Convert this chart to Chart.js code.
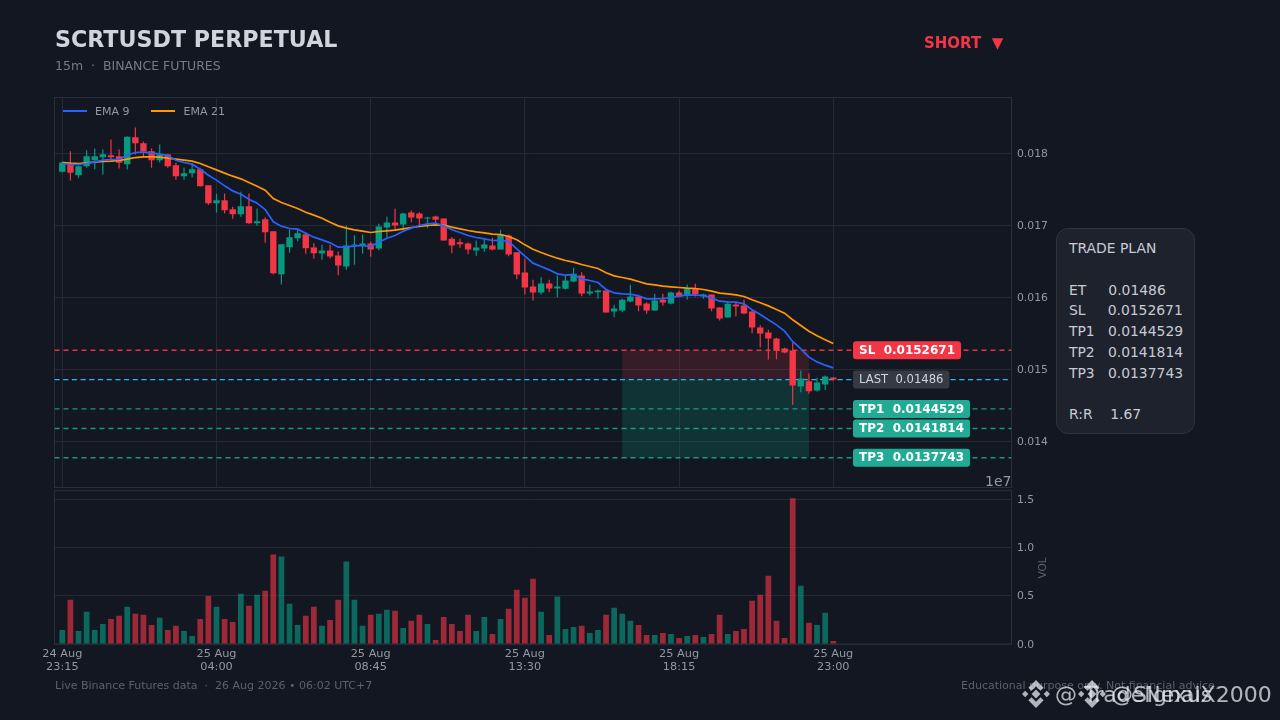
<!DOCTYPE html>
<html>
<head>
<meta charset="utf-8">
<title>SCRTUSDT PERPETUAL</title>
<script src="https://cdn.jsdelivr.net/npm/chart.js@4/dist/chart.umd.min.js"></script>
<style>
    html, body { margin: 0; padding: 0; background: #131722; }
    body { width: 1280px; height: 720px; position: relative; overflow: hidden; font-family: "DejaVu Sans", sans-serif; }
    .abs { position: absolute; white-space: pre; line-height: 1; }
    canvas { position: absolute; left: 0; }
    #priceChart { top: 0; }
    #volumeChart { top: 490px; }
    #title { left: 55px; top: 28px; font-size: 22.2px; font-weight: bold; color: #d1d4dc; }
    #subtitle { left: 55px; top: 60px; font-size: 12.5px; color: #787b86; }
    #side { left: 924px; top: 36px; font-size: 15px; font-weight: bold; color: #f23645; }
    #legend { left: 63px; top: 105px; font-size: 11px; color: #9598a1; display: flex; align-items: center; height: 12px; }
    #legend i { display: inline-block; width: 24px; height: 1.5px; margin-right: 8px; }
    #legend span { margin-right: 22px; }
    #exp { right: 268.5px; top: 474px; font-size: 14px; color: #9598a1; }
    #vol { left: 1042px; top: 568px; font-size: 10.5px; color: #5d606b; transform: translate(-50%, -50%) rotate(-90deg); }
    #plan { left: 1056px; top: 228px; width: 139px; height: 206px; box-sizing: border-box; background: #1e222d; border: 1.5px solid #2f333e; border-radius: 12px; padding: 9px 0 0 12px; font-size: 13.9px; line-height: 20.75px; color: #c8cbd3; white-space: pre; }
    #footl { left: 55px; top: 680px; font-size: 11px; color: #5d606b; }
    #footr { left: 961px; top: 680px; font-size: 11px; color: #5d606b; }
    .mark { color: rgba(232, 234, 240, 0.75); font-size: 22px; top: 684px; }
    svg.logo { position: absolute; top: 680px; width: 28px; height: 28px; fill: rgba(232, 234, 240, 0.75); }
</style>
</head>
<body>
<canvas id="priceChart" width="1280" height="490"></canvas>
<canvas id="volumeChart" width="1280" height="205"></canvas>

<div class="abs" id="title">SCRTUSDT PERPETUAL</div>
<div class="abs" id="subtitle">15m  ·  BINANCE FUTURES</div>
<div class="abs" id="side">SHORT  ▼</div>
<div class="abs" id="legend"><i style="background:#2962ff"></i><span>EMA 9</span><i style="background:#ff9800"></i><span>EMA 21</span></div>
<div class="abs" id="exp">1e7</div>
<div class="abs" id="vol">VOL</div>
<div class="abs" id="plan">TRADE PLAN

ET     0.01486
SL     0.0152671
TP1   0.0144529
TP2   0.0141814
TP3   0.0137743

R:R    1.67</div>
<div class="abs" id="footl">Live Binance Futures data  ·  26 Aug 2026 • 06:02 UTC+7</div>
<div class="abs" id="footr">Educational purpose only. Not financial advice.</div>

<svg class="logo" style="left:1022px" viewBox="5 5 22 22"><path d="M16 3l6 6-2.5 2.5L16 8l-3.5 3.5L10 9zM5 14l2.5-2.5L10 14v.0l-2.5 2.500L5 14zM27 14l-2.5-2.5L22 14l2.5 2.5zM16 10.500l3.500 3.500-3.500 3.500-3.500-3.500zM16 25l-6-6 2.500-2.500L16 20l3.500-3.500L22 19z" transform="translate(0 2)"/></svg>
<div class="abs mark" style="left:1055px">@ TradeNexus</div>
<svg class="logo" style="left:1078px" viewBox="5 5 22 22"><path d="M16 3l6 6-2.5 2.5L16 8l-3.5 3.5L10 9zM5 14l2.5-2.5L10 14v.0l-2.5 2.500L5 14zM27 14l-2.5-2.5L22 14l2.5 2.5zM16 10.500l3.500 3.500-3.500 3.500-3.500-3.500zM16 25l-6-6 2.500-2.500L16 20l3.500-3.500L22 19z" transform="translate(0 2)"/></svg>
<div class="abs mark" style="left:1111px">@SignalX2000</div>

<script>
// velas, una por cada 15m
const opens = [
    0.017745, 0.017847, 0.017699, 0.017824, 0.017907, 0.017949, 0.017977, 0.017963, 0.017852, 0.018227,
    0.018144, 0.018032, 0.017907, 0.017986, 0.017838, 0.017685, 0.017727, 0.017782, 0.017560, 0.017310,
    0.017352, 0.017227, 0.017157, 0.017268, 0.017032, 0.017088, 0.016921, 0.016324, 0.016699, 0.016824,
    0.016880, 0.016694, 0.016611, 0.016653, 0.016583, 0.016430, 0.016722, 0.016722, 0.016750, 0.016681,
    0.016972, 0.017042, 0.017014, 0.017180, 0.017167, 0.017097, 0.017125, 0.017097, 0.016815, 0.016769,
    0.016750, 0.016653, 0.016681, 0.016722, 0.016667, 0.016861, 0.016630, 0.016347, 0.016153, 0.016069,
    0.016194, 0.016125, 0.016120, 0.016222, 0.016306, 0.016056, 0.016074, 0.016097, 0.015806, 0.015819,
    0.015944, 0.016014, 0.015917, 0.015819, 0.015968, 0.015917, 0.016069, 0.016028, 0.016120, 0.016014,
    0.016042, 0.015861, 0.015722, 0.015903, 0.015889, 0.015806, 0.015583, 0.015514, 0.015431, 0.015292,
    0.015264, 0.014764, 0.014838, 0.014708, 0.014792, 0.014889
];
const highs = [
    0.017890, 0.018032, 0.017838, 0.018046, 0.018069, 0.018056, 0.018194, 0.018056, 0.018236, 0.018361,
    0.018167, 0.018069, 0.018125, 0.017995, 0.017870, 0.017806, 0.017861, 0.017801, 0.017560, 0.017440,
    0.017444, 0.017259, 0.017468, 0.017444, 0.017236, 0.017116, 0.016921, 0.016741, 0.016944, 0.016940,
    0.016907, 0.016755, 0.016731, 0.016731, 0.016639, 0.017000, 0.016866, 0.016875, 0.016773, 0.017023,
    0.017120, 0.017231, 0.017176, 0.017208, 0.017185, 0.017120, 0.017134, 0.017097, 0.016838, 0.016815,
    0.016764, 0.016792, 0.016801, 0.016829, 0.016940, 0.016875, 0.016630, 0.016537, 0.016245, 0.016282,
    0.016245, 0.016306, 0.016306, 0.016412, 0.016352, 0.016176, 0.016111, 0.016097, 0.015898, 0.015981,
    0.016176, 0.016037, 0.015935, 0.016051, 0.016051, 0.016079, 0.016097, 0.016181, 0.016190, 0.016051,
    0.016042, 0.015866, 0.015940, 0.015935, 0.015972, 0.015819, 0.015616, 0.015551, 0.015440, 0.015301,
    0.015375, 0.014986, 0.014949, 0.014884, 0.014917, 0.014892
];
const lows = [
    0.017735, 0.017625, 0.017662, 0.017801, 0.017782, 0.017708, 0.017921, 0.017792, 0.017778, 0.017986,
    0.017954, 0.017801, 0.017875, 0.017801, 0.017634, 0.017634, 0.017667, 0.017546, 0.017287, 0.017180,
    0.017167, 0.017093, 0.017120, 0.017023, 0.016995, 0.016759, 0.016319, 0.016180, 0.016620, 0.016782,
    0.016606, 0.016542, 0.016523, 0.016542, 0.016310, 0.016384, 0.016454, 0.016606, 0.016565, 0.016657,
    0.016829, 0.016930, 0.016930, 0.017046, 0.017000, 0.016963, 0.017032, 0.016792, 0.016616, 0.016690,
    0.016602, 0.016579, 0.016634, 0.016657, 0.016667, 0.016574, 0.016255, 0.016042, 0.015958, 0.016042,
    0.016074, 0.016005, 0.016111, 0.016213, 0.016019, 0.016028, 0.015981, 0.015792, 0.015727, 0.015796,
    0.015935, 0.015810, 0.015773, 0.015819, 0.015884, 0.015907, 0.016005, 0.015968, 0.016014, 0.015981,
    0.015810, 0.015681, 0.015722, 0.015736, 0.015769, 0.015505, 0.015306, 0.015139, 0.015144, 0.015227,
    0.014509, 0.014685, 0.014662, 0.014694, 0.014717, 0.014846
];
const closes = [
    0.017875, 0.017731, 0.017824, 0.017963, 0.017963, 0.017991, 0.017949, 0.017870, 0.018231, 0.018144,
    0.018032, 0.017907, 0.017986, 0.017824, 0.017685, 0.017727, 0.017782, 0.017546, 0.017310, 0.017352,
    0.017213, 0.017157, 0.017268, 0.017032, 0.017060, 0.016907, 0.016338, 0.016741, 0.016838, 0.016893,
    0.016685, 0.016616, 0.016653, 0.016569, 0.016444, 0.016722, 0.016736, 0.016750, 0.016667, 0.016986,
    0.017042, 0.017000, 0.017167, 0.017111, 0.017097, 0.017111, 0.017079, 0.016792, 0.016722, 0.016741,
    0.016667, 0.016694, 0.016736, 0.016667, 0.016875, 0.016597, 0.016319, 0.016139, 0.016069, 0.016194,
    0.016125, 0.016153, 0.016236, 0.016329, 0.016056, 0.016083, 0.016097, 0.015792, 0.015847, 0.015968,
    0.016014, 0.015889, 0.015819, 0.015958, 0.015931, 0.016069, 0.016014, 0.016120, 0.016046, 0.016042,
    0.015847, 0.015708, 0.015912, 0.015875, 0.015778, 0.015583, 0.015500, 0.015431, 0.015259, 0.015236,
    0.014778, 0.014875, 0.014699, 0.014819, 0.014903, 0.014860
];
// volumen en unidades de 1e7
const volumes = [
    0.146, 0.458, 0.135, 0.333, 0.146, 0.208, 0.260, 0.292, 0.385, 0.313,
    0.302, 0.198, 0.271, 0.146, 0.188, 0.135, 0.083, 0.260, 0.497, 0.385,
    0.260, 0.229, 0.521, 0.396, 0.510, 0.552, 0.927, 0.906, 0.417, 0.198,
    0.292, 0.385, 0.188, 0.250, 0.458, 0.854, 0.458, 0.188, 0.302, 0.313,
    0.354, 0.344, 0.167, 0.240, 0.302, 0.208, 0.042, 0.281, 0.208, 0.135,
    0.302, 0.135, 0.281, 0.104, 0.260, 0.365, 0.563, 0.479, 0.677, 0.333,
    0.094, 0.493, 0.156, 0.177, 0.188, 0.115, 0.146, 0.302, 0.375, 0.313,
    0.240, 0.198, 0.094, 0.094, 0.115, 0.104, 0.063, 0.083, 0.094, 0.073,
    0.104, 0.302, 0.104, 0.135, 0.156, 0.448, 0.510, 0.708, 0.240, 0.063,
    1.512, 0.604, 0.219, 0.198, 0.323, 0.031
];
const ema9 = [
    0.017861, 0.017847, 0.017847, 0.017861, 0.017884, 0.017907, 0.017917, 0.017917, 0.017977, 0.018014,
    0.018023, 0.018005, 0.017995, 0.017968, 0.017907, 0.017875, 0.017852, 0.017782, 0.017699, 0.017630,
    0.017551, 0.017481, 0.017435, 0.017366, 0.017310, 0.017222, 0.017051, 0.016991, 0.016958, 0.016949,
    0.016891, 0.016838, 0.016801, 0.016759, 0.016699, 0.016704, 0.016713, 0.016722, 0.016708, 0.016769,
    0.016824, 0.016861, 0.016921, 0.016963, 0.017000, 0.017023, 0.017032, 0.016995, 0.016940, 0.016903,
    0.016861, 0.016833, 0.016815, 0.016792, 0.016796, 0.016778, 0.016676, 0.016574, 0.016477, 0.016431,
    0.016384, 0.016329, 0.016310, 0.016319, 0.016259, 0.016236, 0.016208, 0.016111, 0.016065, 0.016051,
    0.016046, 0.016023, 0.015981, 0.015981, 0.015986, 0.016000, 0.016019, 0.016037, 0.016032, 0.016028,
    0.015995, 0.015949, 0.015940, 0.015935, 0.015912, 0.015829, 0.015764, 0.015690, 0.015620, 0.015532,
    0.015389, 0.015287, 0.015171, 0.015106, 0.015060, 0.015023
];
const ema21 = [
    0.017875, 0.017866, 0.017861, 0.017870, 0.017880, 0.017889, 0.017894, 0.017903, 0.017921, 0.017944,
    0.017954, 0.017954, 0.017949, 0.017935, 0.017921, 0.017907, 0.017894, 0.017861, 0.017815, 0.017773,
    0.017727, 0.017685, 0.017648, 0.017597, 0.017546, 0.017491, 0.017375, 0.017320, 0.017278, 0.017236,
    0.017183, 0.017144, 0.017102, 0.017046, 0.016995, 0.016963, 0.016940, 0.016921, 0.016903, 0.016917,
    0.016926, 0.016935, 0.016954, 0.016972, 0.016986, 0.017000, 0.017009, 0.017005, 0.016977, 0.016954,
    0.016931, 0.016912, 0.016898, 0.016880, 0.016875, 0.016847, 0.016801, 0.016731, 0.016671, 0.016625,
    0.016583, 0.016546, 0.016514, 0.016491, 0.016458, 0.016431, 0.016403, 0.016343, 0.016301, 0.016278,
    0.016255, 0.016222, 0.016190, 0.016176, 0.016157, 0.016148, 0.016139, 0.016130, 0.016125, 0.016111,
    0.016088, 0.016060, 0.016051, 0.016037, 0.016014, 0.015968, 0.015926, 0.015884, 0.015833, 0.015782,
    0.015690, 0.015611, 0.015532, 0.015468, 0.015412, 0.015361
];

// ejes
const timeTicks = [0, 19, 38, 57, 76, 95];
const timeLabels = [['24 Aug', '23:15'], ['25 Aug', '04:00'], ['25 Aug', '08:45'], ['25 Aug', '13:30'], ['25 Aug', '18:15'], ['25 Aug', '23:00']];
const priceTicks = [0.014, 0.015, 0.016, 0.017, 0.018];
const volumeTicks = [0, 0.5, 1, 1.5];

// plan de trade
const levelNames = ['SL', 'LAST', 'TP1', 'TP2', 'TP3'];
const levelPrices = [0.0152671, 0.01486, 0.0144529, 0.0141814, 0.0137743];
const levelTexts = ['0.0152671', '0.01486', '0.0144529', '0.0141814', '0.0137743'];
const zoneBars = [69, 92];

const X_MIN = -0.96, X_MAX = 116.96;
const UP = '#089981', DOWN = '#f23645';
const GRID = '#252934', FRAME = '#2a2e39', TICK = '#9598a1';

const isUp = closes.map((c, i) => c >= opens[i]);
const indexes = closes.map((c, i) => i);

// recuadro alrededor del area del grafico
const framePlugin = {
    id: 'frame',
    beforeDatasetsDraw(chart) {
        const a = chart.chartArea, ctx = chart.ctx;
        ctx.save();
        ctx.strokeStyle = FRAME;
        ctx.lineWidth = 1;
        ctx.strokeRect(a.left, a.top, a.width, a.height);
        ctx.restore();
    }
};

// zonas de riesgo y beneficio
const zonePlugin = {
    id: 'zones',
    beforeDatasetsDraw(chart) {
        const { x, y } = chart.scales, ctx = chart.ctx;
        const left = x.getPixelForValue(zoneBars[0]), right = x.getPixelForValue(zoneBars[1]);
        const sl = y.getPixelForValue(levelPrices[0]);
        const entry = y.getPixelForValue(levelPrices[1]);
        const tp3 = y.getPixelForValue(levelPrices[4]);
        ctx.save();
        ctx.fillStyle = 'rgba(242,54,69,0.16)';
        ctx.fillRect(left, sl, right - left, entry - sl);
        ctx.fillStyle = 'rgba(8,153,129,0.22)';
        ctx.fillRect(left, entry, right - left, tp3 - entry);
        ctx.restore();
    }
};

// etiquetas de los niveles
const tagPlugin = {
    id: 'tags',
    afterDatasetsDraw(chart) {
        const y = chart.scales.y, ctx = chart.ctx;
        const left = 853;
        ctx.save();
        ctx.textBaseline = 'middle';
        levelNames.forEach((name, i) => {
            const py = y.getPixelForValue(levelPrices[i]);
            const isLast = name === 'LAST';
            const text = name + '  ' + levelTexts[i];
            ctx.font = isLast ? '11.6px "DejaVu Sans"' : 'bold 12px "DejaVu Sans"';
            const width = ctx.measureText(text).width + 12;
            ctx.beginPath();
            ctx.roundRect(left, py - 9, width, 18, 3);
            ctx.fillStyle = isLast ? '#363a45' : (name === 'SL' ? DOWN : '#22ab94');
            ctx.fill();
            ctx.fillStyle = isLast ? '#d1d4dc' : '#ffffff';
            ctx.fillText(text, left + 6, py + 0.5);
        });
        ctx.restore();
    }
};

function levelDataset(price, color, dash, width) {
    return {
        type: 'line',
        data: [{ x: X_MIN, y: price }, { x: X_MAX, y: price }],
        borderColor: color,
        borderWidth: width,
        borderDash: dash,
        pointRadius: 0,
        order: 6
    };
}

function emaDataset(values, color, order) {
    return {
        type: 'line',
        data: values.map((v, i) => ({ x: i, y: v })),
        borderColor: color,
        borderWidth: 1.7,
        pointRadius: 0,
        tension: 0,
        order: order
    };
}

// grafico de precio
new Chart(document.getElementById('priceChart'), {
    type: 'bar',
    plugins: [framePlugin, zonePlugin, tagPlugin],
    data: {
        datasets: [
            {
                data: indexes.map(i => ({ x: i, y: [lows[i], highs[i]] })),
                backgroundColor: indexes.map(i => isUp[i] ? UP : DOWN),
                barThickness: 1.2,
                grouped: false,
                inflateAmount: 0,
                order: 5
            },
            {
                data: indexes.map(i => ({ x: i, y: [opens[i], closes[i]] })),
                backgroundColor: indexes.map(i => isUp[i] ? UP : DOWN),
                barThickness: 6.4,
                grouped: false,
                inflateAmount: 0,
                order: 4
            },
            emaDataset(ema21, '#ff9800', 2),
            emaDataset(ema9, '#2962ff', 1),
            levelDataset(levelPrices[0], 'rgba(242,54,69,0.95)', [5, 4], 1.4),
            levelDataset(levelPrices[1], '#29b6f6', [5, 3.7], 1.4),
            levelDataset(levelPrices[1], 'rgba(210,215,225,0.22)', [1, 3.35], 1),
            levelDataset(levelPrices[2], 'rgba(34,171,148,0.85)', [5, 4], 1.4),
            levelDataset(levelPrices[3], 'rgba(34,171,148,0.85)', [5, 4], 1.4),
            levelDataset(levelPrices[4], 'rgba(34,171,148,0.85)', [5, 4], 1.4)
        ]
    },
    options: {
        responsive: false,
        animation: false,
        layout: { padding: { left: 54.5, top: 97.5, right: 0, bottom: 2.5 } },
        plugins: { legend: { display: false }, tooltip: { enabled: false } },
        scales: {
            x: {
                type: 'linear',
                min: X_MIN,
                max: X_MAX,
                offset: false,
                afterBuildTicks: axis => { axis.ticks = timeTicks.map(v => ({ value: v })); },
                afterFit: axis => { axis.height = 0; },
                ticks: { display: false },
                grid: { color: GRID, drawTicks: false, offset: false },
                border: { display: false }
            },
            y: {
                position: 'right',
                min: 0.0133611,
                max: 0.0187778,
                afterBuildTicks: axis => { axis.ticks = priceTicks.map(v => ({ value: v })); },
                afterFit: axis => { axis.width = 268.5; axis.paddingTop = 0; axis.paddingBottom = 0; },
                ticks: {
                    color: TICK,
                    font: { family: 'DejaVu Sans', size: 10.8 },
                    padding: 5.5,
                    labelOffset: 0.8,
                    callback: v => v.toFixed(3)
                },
                grid: { color: GRID, drawTicks: false },
                border: { display: false }
            }
        }
    }
});

// grafico de volumen
new Chart(document.getElementById('volumeChart'), {
    type: 'bar',
    plugins: [framePlugin],
    data: {
        datasets: [{
            data: indexes.map(i => ({ x: i, y: volumes[i] })),
            backgroundColor: indexes.map(i => isUp[i] ? 'rgba(8,153,129,0.62)' : 'rgba(242,54,69,0.62)'),
            barThickness: 5.7,
            inflateAmount: 0
        }]
    },
    options: {
        responsive: false,
        animation: false,
        layout: { padding: { left: 54.5, top: 0.7, right: 0, bottom: 0 } },
        plugins: { legend: { display: false }, tooltip: { enabled: false } },
        scales: {
            x: {
                type: 'linear',
                min: X_MIN,
                max: X_MAX,
                offset: false,
                afterBuildTicks: axis => { axis.ticks = timeTicks.map(v => ({ value: v })); },
                afterFit: axis => { axis.height = 51; },
                ticks: {
                    color: TICK,
                    font: { family: 'DejaVu Sans', size: 11.3 },
                    padding: -5,
                    maxRotation: 0,
                    autoSkip: false,
                    callback: v => timeLabels[timeTicks.indexOf(v)]
                },
                grid: { display: false },
                border: { display: false }
            },
            y: {
                position: 'right',
                min: 0,
                max: 1.589,
                afterBuildTicks: axis => { axis.ticks = volumeTicks.map(v => ({ value: v })); },
                afterFit: axis => { axis.width = 268.5; axis.paddingTop = 0; axis.paddingBottom = 0; },
                ticks: {
                    color: TICK,
                    font: { family: 'DejaVu Sans', size: 10.8 },
                    padding: 5.5,
                    labelOffset: 0.8,
                    callback: v => v.toFixed(1)
                },
                grid: { color: GRID, drawTicks: false },
                border: { display: false }
            }
        }
    }
});
</script>
</body>
</html>
